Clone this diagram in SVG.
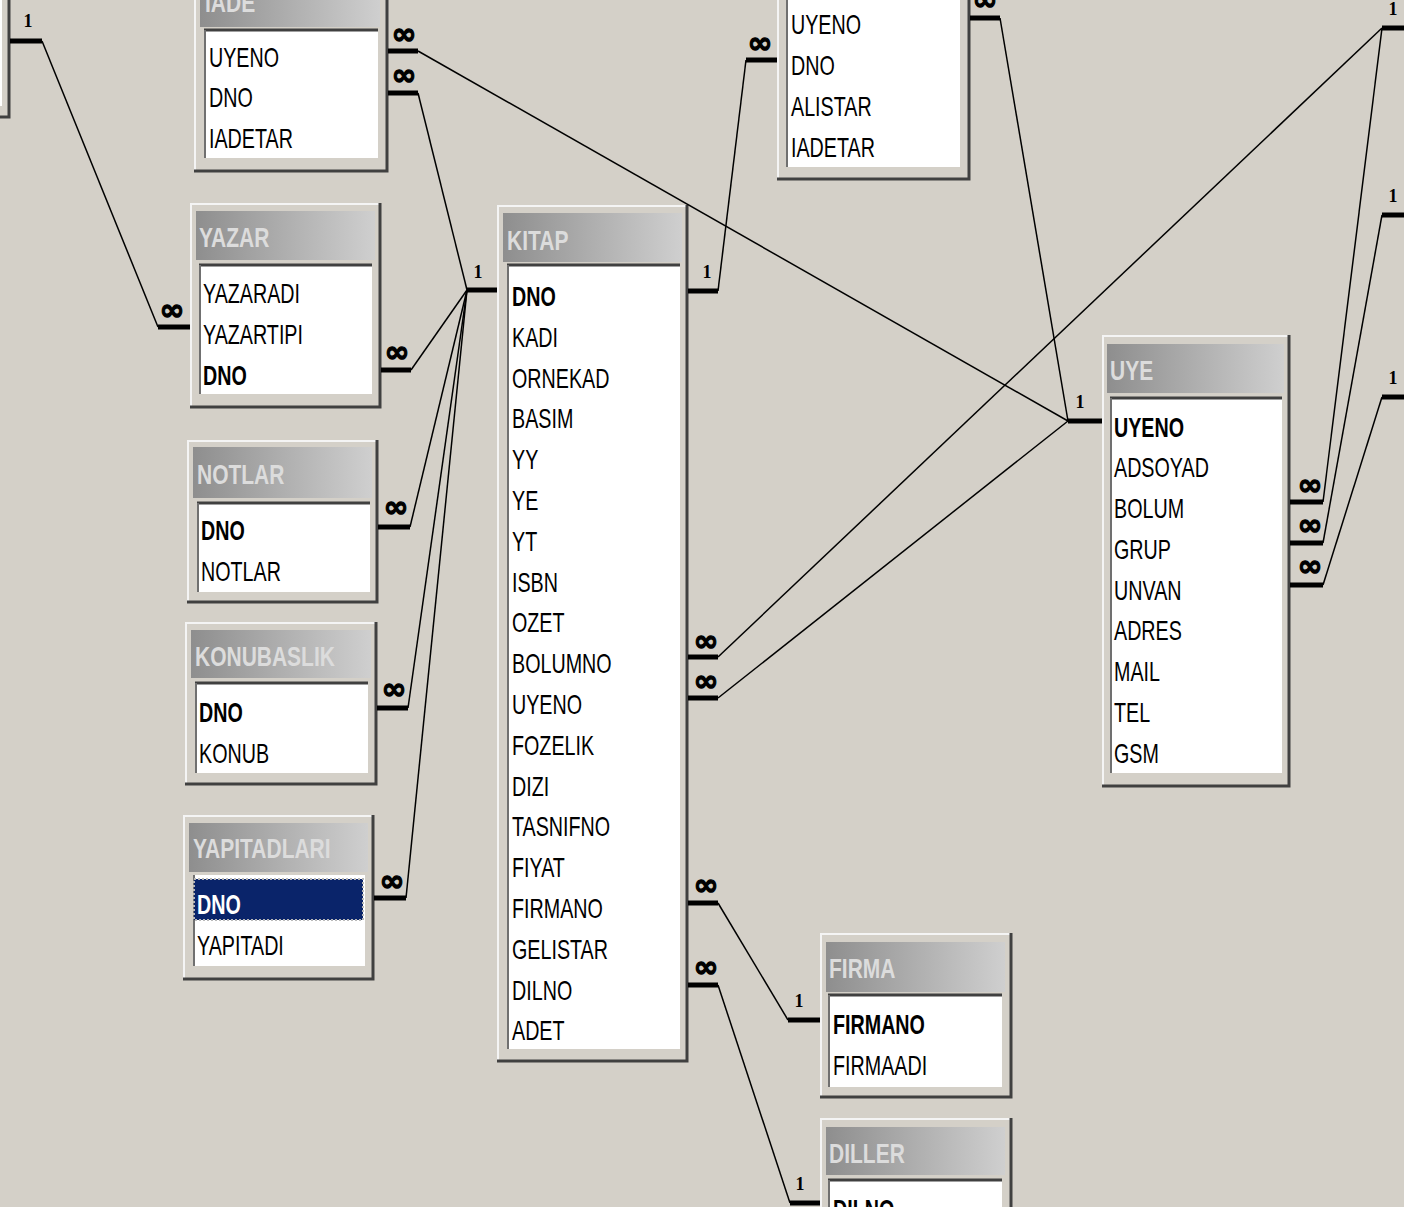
<svg xmlns="http://www.w3.org/2000/svg" width="1404" height="1207" viewBox="0 0 1404 1207">
<defs>
<linearGradient id="tg" x1="0" y1="0" x2="1" y2="0">
<stop offset="0" stop-color="#8e8e8e"/>
<stop offset="1" stop-color="#cfcfcf"/>
</linearGradient>
<style>
.bg{fill:#d4d0c8}
.frame{fill:#d4d0c8}
.hl{fill:none;stroke:#f4f4f4;stroke-width:2}
.sh{fill:none;stroke:#404040;stroke-width:3}
.bar{fill:url(#tg)}
.list{fill:#ffffff}
.lt{fill:none;stroke:#404040;stroke-width:3}
.ll{fill:none;stroke:#707070;stroke-width:2}
.f{font-family:"Liberation Sans",Arial,sans-serif;font-size:27px;fill:#000}
.b{font-weight:bold}
.t{font-family:"Liberation Sans",Arial,sans-serif;font-size:28px;font-weight:bold;fill:#dcdcdc}
.c{stroke:#000;stroke-width:1.5;fill:none}
.k{stroke:#000;stroke-width:5;fill:none}
.one{font-family:"Liberation Serif",serif;font-size:18px;font-weight:bold;fill:#000;text-anchor:middle}
.inf{font-family:"DejaVu Sans",sans-serif;font-size:30px;font-weight:bold;fill:#000;stroke:#000;stroke-width:1.2;text-anchor:middle}
</style>
</defs>
<rect class="bg" x="0" y="0" width="1404" height="1207"/>

<!-- left cut-off table -->
<g id="t_left">
<rect class="frame" x="-20" y="-20" width="30" height="138"/>
<rect class="list" x="-20" y="-20" width="22" height="126"/>
<path class="sh" d="M9,-20 V117 H-20"/>
</g>

<!-- IADE -->
<g id="t_iade">
<rect class="frame" x="194" y="-30" width="194" height="202"/>
<path class="hl" d="M195,172 V-30"/>
<path class="sh" d="M387,-30 V171 H194"/>
<rect class="bar" x="200" y="-22" width="180" height="49"/>
<rect class="list" x="204" y="30" width="174" height="128"/>
<path class="lt" d="M204,30 H378"/>
<path class="ll" d="M205,30 V158"/>
<text class="t" transform="translate(205,12) scale(0.75,1)">IADE</text>
<g transform="translate(209,0) scale(0.73,1)">
<text class="f" y="67">UYENO</text>
<text class="f" y="107">DNO</text>
<text class="f" y="148">IADETAR</text>
</g>
</g>

<!-- top center table -->
<g id="t_odunc">
<rect class="frame" x="777" y="-80" width="193" height="260"/>
<path class="hl" d="M778,180 V-80"/>
<path class="sh" d="M969,-80 V179 H777"/>
<rect class="list" x="786" y="-4" width="174" height="171"/>
<path class="ll" d="M787,-4 V167"/>
<g transform="translate(791,0) scale(0.73,1)">
<text class="f" y="34">UYENO</text>
<text class="f" y="75">DNO</text>
<text class="f" y="116">ALISTAR</text>
<text class="f" y="157">IADETAR</text>
</g>
</g>

<!-- YAZAR -->
<g id="t_yazar">
<rect class="frame" x="190" y="203" width="191" height="205"/>
<path class="hl" d="M191,408 V204 H381"/>
<path class="sh" d="M380,203 V407 H190"/>
<rect class="bar" x="196" y="211" width="179" height="49"/>
<rect class="list" x="199" y="265" width="173" height="129"/>
<path class="lt" d="M199,265 H372"/>
<path class="ll" d="M200,265 V394"/>
<text class="t" transform="translate(199,247) scale(0.75,1)">YAZAR</text>
<g transform="translate(203,0) scale(0.73,1)">
<text class="f" y="303">YAZARADI</text>
<text class="f" y="344">YAZARTIPI</text>
<text class="f b" y="385">DNO</text>
</g>
</g>

<!-- NOTLAR -->
<g id="t_notlar">
<rect class="frame" x="187" y="440" width="191" height="163"/>
<path class="hl" d="M188,603 V441 H378"/>
<path class="sh" d="M377,440 V602 H187"/>
<rect class="bar" x="193" y="447" width="179" height="51"/>
<rect class="list" x="197" y="503" width="173" height="89"/>
<path class="lt" d="M197,503 H370"/>
<path class="ll" d="M198,503 V592"/>
<text class="t" transform="translate(197,484) scale(0.75,1)">NOTLAR</text>
<g transform="translate(201,0) scale(0.73,1)">
<text class="f b" y="540">DNO</text>
<text class="f" y="581">NOTLAR</text>
</g>
</g>

<!-- KONUBASLIK -->
<g id="t_konubaslik">
<rect class="frame" x="185" y="622" width="192" height="163"/>
<path class="hl" d="M186,785 V623 H377"/>
<path class="sh" d="M376,622 V784 H185"/>
<rect class="bar" x="191" y="630" width="180" height="48"/>
<rect class="list" x="195" y="683" width="173" height="90"/>
<path class="lt" d="M195,683 H368"/>
<path class="ll" d="M196,683 V773"/>
<text class="t" transform="translate(195,666) scale(0.75,1)">KONUBASLIK</text>
<g transform="translate(199,0) scale(0.73,1)">
<text class="f b" y="722">DNO</text>
<text class="f" y="763">KONUB</text>
</g>
</g>

<!-- YAPITADLARI -->
<g id="t_yapitadlari">
<rect class="frame" x="183" y="815" width="191" height="165"/>
<path class="hl" d="M184,980 V816 H374"/>
<path class="sh" d="M373,815 V979 H183"/>
<rect class="bar" x="189" y="823" width="179" height="49"/>
<rect class="list" x="193" y="875" width="172" height="91"/>
<path class="ll" d="M194,875 V966"/>
<rect x="194" y="879" width="169" height="41" fill="#0a246a" stroke="#b8b8b8" stroke-width="2" stroke-dasharray="2,2"/>
<text class="t" transform="translate(193,858) scale(0.75,1)">YAPITADLARI</text>
<g transform="translate(197,0) scale(0.73,1)">
<text class="f b" y="914" style="fill:#ffffff">DNO</text>
<text class="f" y="955">YAPITADI</text>
</g>
</g>

<!-- KITAP -->
<g id="t_kitap">
<rect class="frame" x="497" y="205" width="191" height="857"/>
<path class="hl" d="M498,1062 V206 H688"/>
<path class="sh" d="M687,205 V1061 H497"/>
<rect class="bar" x="503" y="213" width="179" height="49"/>
<rect class="list" x="507" y="265" width="173" height="784"/>
<path class="lt" d="M507,265 H680"/>
<path class="ll" d="M508,265 V1049"/>
<text class="t" transform="translate(507,250) scale(0.75,1)">KITAP</text>
<g transform="translate(512,0) scale(0.73,1)">
<text class="f b" y="306">DNO</text>
<text class="f" y="347">KADI</text>
<text class="f" y="388">ORNEKAD</text>
<text class="f" y="428">BASIM</text>
<text class="f" y="469">YY</text>
<text class="f" y="510">YE</text>
<text class="f" y="551">YT</text>
<text class="f" y="592">ISBN</text>
<text class="f" y="632">OZET</text>
<text class="f" y="673">BOLUMNO</text>
<text class="f" y="714">UYENO</text>
<text class="f" y="755">FOZELIK</text>
<text class="f" y="796">DIZI</text>
<text class="f" y="836">TASNIFNO</text>
<text class="f" y="877">FIYAT</text>
<text class="f" y="918">FIRMANO</text>
<text class="f" y="959">GELISTAR</text>
<text class="f" y="1000">DILNO</text>
<text class="f" y="1040">ADET</text>
</g>
</g>

<!-- UYE -->
<g id="t_uye">
<rect class="frame" x="1102" y="335" width="188" height="452"/>
<path class="hl" d="M1103,787 V336 H1290"/>
<path class="sh" d="M1289,335 V786 H1102"/>
<rect class="bar" x="1107" y="344" width="177" height="49"/>
<rect class="list" x="1110" y="398" width="172" height="375"/>
<path class="lt" d="M1110,398 H1282"/>
<path class="ll" d="M1111,398 V773"/>
<text class="t" transform="translate(1110,380) scale(0.75,1)">UYE</text>
<g transform="translate(1114,0) scale(0.73,1)">
<text class="f b" y="437">UYENO</text>
<text class="f" y="477">ADSOYAD</text>
<text class="f" y="518">BOLUM</text>
<text class="f" y="559">GRUP</text>
<text class="f" y="600">UNVAN</text>
<text class="f" y="640">ADRES</text>
<text class="f" y="681">MAIL</text>
<text class="f" y="722">TEL</text>
<text class="f" y="763">GSM</text>
</g>
</g>

<!-- FIRMA -->
<g id="t_firma">
<rect class="frame" x="820" y="933" width="192" height="165"/>
<path class="hl" d="M821,1098 V934 H1012"/>
<path class="sh" d="M1011,933 V1097 H820"/>
<rect class="bar" x="826" y="942" width="179" height="50"/>
<rect class="list" x="828" y="995" width="174" height="92"/>
<path class="lt" d="M828,995 H1002"/>
<path class="ll" d="M829,995 V1087"/>
<text class="t" transform="translate(829,978) scale(0.75,1)">FIRMA</text>
<g transform="translate(833,0) scale(0.73,1)">
<text class="f b" y="1034">FIRMANO</text>
<text class="f" y="1075">FIRMAADI</text>
</g>
</g>

<!-- DILLER -->
<g id="t_diller">
<rect class="frame" x="820" y="1118" width="192" height="140"/>
<path class="hl" d="M821,1258 V1119 H1012"/>
<path class="sh" d="M1011,1118 V1258"/>
<rect class="bar" x="826" y="1127" width="179" height="48"/>
<rect class="list" x="828" y="1180" width="174" height="80"/>
<path class="lt" d="M828,1180 H1002"/>
<path class="ll" d="M829,1180 V1260"/>
<text class="t" transform="translate(829,1163) scale(0.75,1)">DILLER</text>
<g transform="translate(833,0) scale(0.73,1)">
<text class="f b" y="1219">DILNO</text>
</g>
</g>

<!-- connectors -->
<g id="connectors">
<line class="c" x1="42" y1="41" x2="158" y2="327"/>
<line class="c" x1="418" y1="93" x2="467" y2="290"/>
<line class="c" x1="411" y1="370" x2="467" y2="290"/>
<line class="c" x1="410" y1="527" x2="467" y2="290"/>
<line class="c" x1="408" y1="708" x2="467" y2="290"/>
<line class="c" x1="406" y1="898" x2="467" y2="290"/>
<line class="c" x1="418" y1="51" x2="1068" y2="421"/>
<line class="c" x1="718" y1="291" x2="746" y2="60"/>
<line class="c" x1="1000" y1="18" x2="1068" y2="421"/>
<line class="c" x1="718" y1="657" x2="1382" y2="28"/>
<line class="c" x1="718" y1="698" x2="1068" y2="421"/>
<line class="c" x1="1323" y1="502" x2="1382" y2="28"/>
<line class="c" x1="1323" y1="543" x2="1382" y2="215"/>
<line class="c" x1="1323" y1="585" x2="1382" y2="397"/>
<line class="c" x1="718" y1="903" x2="788" y2="1020"/>
<line class="c" x1="718" y1="985" x2="790" y2="1203"/>

<line class="k" x1="10" y1="41" x2="42" y2="41"/>
<line class="k" x1="388" y1="51" x2="418" y2="51"/>
<line class="k" x1="388" y1="93" x2="418" y2="93"/>
<line class="k" x1="158" y1="327" x2="190" y2="327"/>
<line class="k" x1="381" y1="370" x2="411" y2="370"/>
<line class="k" x1="378" y1="527" x2="410" y2="527"/>
<line class="k" x1="377" y1="708" x2="408" y2="708"/>
<line class="k" x1="374" y1="898" x2="406" y2="898"/>
<line class="k" x1="467" y1="290" x2="497" y2="290"/>
<line class="k" x1="688" y1="291" x2="718" y2="291"/>
<line class="k" x1="688" y1="657" x2="718" y2="657"/>
<line class="k" x1="688" y1="698" x2="718" y2="698"/>
<line class="k" x1="688" y1="903" x2="718" y2="903"/>
<line class="k" x1="688" y1="985" x2="718" y2="985"/>
<line class="k" x1="746" y1="60" x2="777" y2="60"/>
<line class="k" x1="970" y1="18" x2="1000" y2="18"/>
<line class="k" x1="1068" y1="421" x2="1102" y2="421"/>
<line class="k" x1="1290" y1="502" x2="1323" y2="502"/>
<line class="k" x1="1290" y1="543" x2="1323" y2="543"/>
<line class="k" x1="1290" y1="585" x2="1323" y2="585"/>
<line class="k" x1="1382" y1="28" x2="1404" y2="28"/>
<line class="k" x1="1382" y1="215" x2="1404" y2="215"/>
<line class="k" x1="1382" y1="397" x2="1404" y2="397"/>
<line class="k" x1="788" y1="1020" x2="820" y2="1020"/>
<line class="k" x1="790" y1="1203" x2="820" y2="1203"/>

<text class="one" x="28" y="27">1</text>
<text class="one" x="478" y="278">1</text>
<text class="one" x="707" y="278">1</text>
<text class="one" x="1080" y="408">1</text>
<text class="one" x="799" y="1007">1</text>
<text class="one" x="800" y="1190">1</text>
<text class="one" x="1393" y="15">1</text>
<text class="one" x="1393" y="202">1</text>
<text class="one" x="1393" y="384">1</text>

<text class="inf" x="404" y="44">∞</text>
<text class="inf" x="404" y="85">∞</text>
<text class="inf" x="172" y="320">∞</text>
<text class="inf" x="397" y="362">∞</text>
<text class="inf" x="396" y="517">∞</text>
<text class="inf" x="394" y="699">∞</text>
<text class="inf" x="392" y="891">∞</text>
<text class="inf" x="706" y="651">∞</text>
<text class="inf" x="706" y="691">∞</text>
<text class="inf" x="706" y="895">∞</text>
<text class="inf" x="706" y="977">∞</text>
<text class="inf" x="760" y="53">∞</text>
<text class="inf" x="985" y="10">∞</text>
<text class="inf" x="1310" y="495">∞</text>
<text class="inf" x="1310" y="535">∞</text>
<text class="inf" x="1310" y="576">∞</text>
</g>
</svg>
